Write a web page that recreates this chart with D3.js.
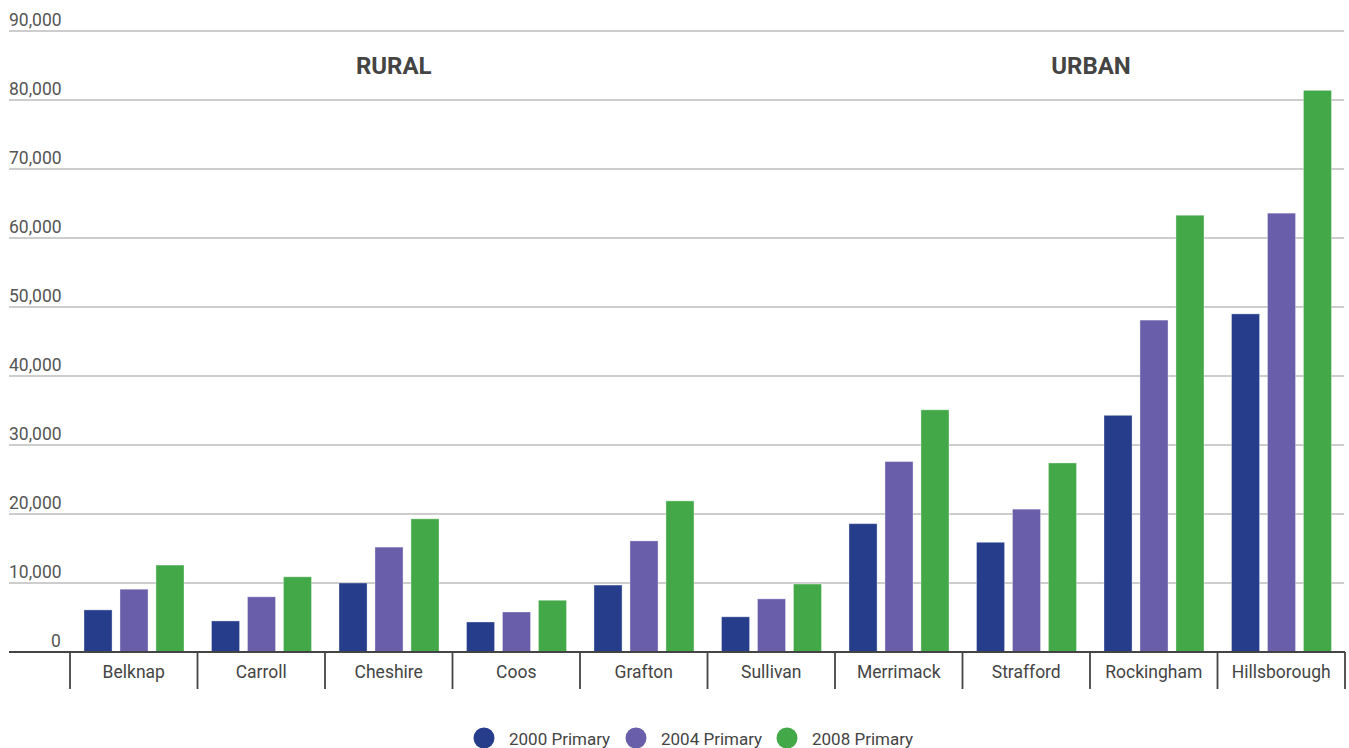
<!DOCTYPE html>
<html>
<head>
<meta charset="utf-8">
<script src="https://cdn.jsdelivr.net/npm/d3@7"></script>
<style>
  html, body { margin: 0; padding: 0; background: #ffffff; }
  svg text { font-family: Roboto, "Open Sans", sans-serif; }
</style>
</head>
<body>
<svg id="chart" width="1349" height="748"></svg>
<script>
// New Hampshire primary turnout by county
const counties = ["Belknap", "Carroll", "Cheshire", "Coos", "Grafton", "Sullivan",
                  "Merrimack", "Strafford", "Rockingham", "Hillsborough"];
const seriesNames = ["2000 Primary", "2004 Primary", "2008 Primary"];
const primary2000 = [6100, 4500, 10000, 4350, 9700, 5100, 18600, 15900, 34300, 49000];
const primary2004 = [9100, 8000, 15200, 5800, 16100, 7700, 27600, 20700, 48100, 63600];
const primary2008 = [12600, 10900, 19300, 7500, 21900, 9850, 35100, 27400, 63300, 81400];
const yTicks = [0, 10000, 20000, 30000, 40000, 50000, 60000, 70000, 80000, 90000];
const groupLabels = ["RURAL", "URBAN"];
const colors = ["#253d8b", "#685ea9", "#43a948"];

const series = [primary2000, primary2004, primary2008];

const svg = d3.select("#chart");
const left = 9, right = 1344, plotLeft = 70, plotRight = 1345;
const y = d3.scaleLinear().domain([0, 90000]).range([652, 31]);
const x = d3.scaleBand().domain(counties).range([plotLeft, plotRight]).paddingInner(0).paddingOuter(0);
const xs = d3.scaleBand().domain(seriesNames).range([14, x.bandwidth() - 13.5]).paddingInner(0.22);

// horizontal gridlines with labels sitting above each line
const grid = svg.append("g");
grid.selectAll("line").data(yTicks.filter(d => d > 0)).join("line")
  .attr("x1", left).attr("x2", right)
  .attr("y1", d => y(d)).attr("y2", d => y(d))
  .attr("stroke", "#bdbdbd").attr("stroke-width", 1.6);
grid.selectAll("text").data(yTicks).join("text")
  .attr("x", d => d === 0 ? 56 : left)
  .attr("y", d => y(d) - 5)
  .attr("text-anchor", d => d === 0 ? "middle" : "start")
  .attr("font-size", 17.5).attr("fill", "#555")
  .text(d => d3.format(",")(d));

// bars
const groups = svg.append("g").selectAll("g").data(counties).join("g")
  .attr("transform", d => `translate(${x(d)},0)`);
groups.selectAll("rect")
  .data((c, i) => series.map((s, k) => ({ key: seriesNames[k], value: s[i], k })))
  .join("rect")
  .attr("x", d => xs(d.key))
  .attr("width", xs.bandwidth())
  .attr("y", d => y(d.value))
  .attr("height", d => y(0) - y(d.value))
  .attr("fill", d => colors[d.k])
  .attr("stroke", "rgba(255,255,255,0.35)").attr("stroke-width", 1);

// category axis
const xAxis = svg.append("g").attr("transform", `translate(0,${y(0)})`);
xAxis.append("line").attr("x1", left).attr("x2", right + 1).attr("y1", 0).attr("y2", 0)
  .attr("stroke", "#444").attr("stroke-width", 2.2);
const bounds = counties.map(c => x(c)).concat([plotRight]);
xAxis.selectAll("line.sep").data(bounds).join("line").attr("class", "sep")
  .attr("x1", d => d).attr("x2", d => d).attr("y1", 0).attr("y2", 37)
  .attr("stroke", "#444").attr("stroke-width", 1.8);
xAxis.selectAll("text").data(counties).join("text")
  .attr("x", d => x(d) + x.bandwidth() / 2)
  .attr("y", 26)
  .attr("text-anchor", "middle")
  .attr("font-size", 17.5).attr("fill", "#444")
  .text(d => d);

// section headings
svg.selectAll("text.group").data(groupLabels).join("text").attr("class", "group")
  .attr("x", d => d === "RURAL" ? x("Cheshire") + x.bandwidth() / 2 + 5 : x("Rockingham") + 1)
  .attr("y", 74)
  .attr("text-anchor", "middle")
  .attr("font-size", 24).attr("font-weight", 700).attr("fill", "#444")
  .text(d => d);

// legend
const legendX = [484, 636, 787];
const legend = svg.append("g").selectAll("g").data(seriesNames).join("g")
  .attr("transform", (d, i) => `translate(${legendX[i]},738)`);
legend.append("circle").attr("r", 10.5).attr("fill", (d, i) => colors[i]);
legend.append("text").attr("x", 25).attr("y", 6.5)
  .attr("font-size", 17).attr("fill", "#444").text(d => d);
</script>
</body>
</html>
